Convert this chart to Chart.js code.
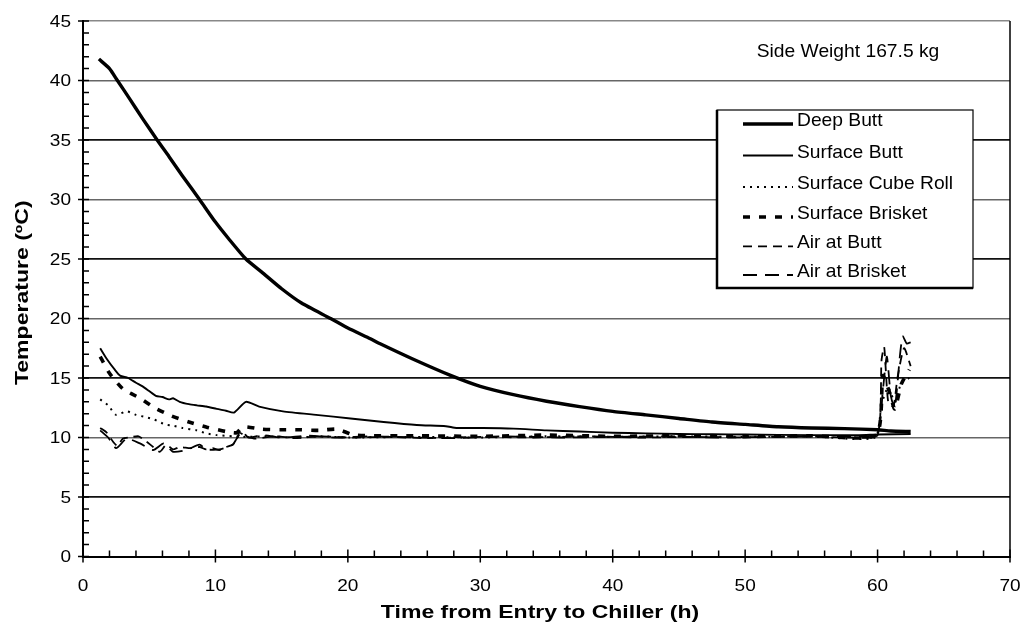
<!DOCTYPE html>
<html>
<head>
<meta charset="utf-8">
<script src="https://cdn.jsdelivr.net/npm/chart.js@4.4.1/dist/chart.umd.min.js"></script>
<style>
  html, body { margin: 0; padding: 0; background: #fff; }
  #wrap { width: 1027px; height: 639px; }
</style>
</head>
<body>
<div id="wrap"><canvas id="chiller-chart" width="1027" height="639"></canvas></div>
<script>
// Hours after entry and measured temperatures (degC) for each probe
const deepButtHours = [1.2, 2.0, 2.6, 3.5, 4.5, 5.6, 6.5, 7.5, 8.8, 10.0, 11.0, 12.3, 13.5, 15.0, 16.5, 18.7, 20.0, 21.7, 22.4, 24.9, 27.8, 30.0, 32.5, 35.0, 37.5, 40.0, 42.5, 45.0, 47.5, 50.0, 52.5, 55.0, 57.5, 60.0, 61.0, 62.5];
const deepButtTemps = [41.8, 41.0, 40.0, 38.5, 36.8, 35.0, 33.6, 32.0, 30.0, 28.1, 26.7, 25.0, 23.9, 22.5, 21.3, 20.0, 19.2, 18.3, 17.9, 16.6, 15.2, 14.3, 13.6, 13.05, 12.6, 12.2, 11.9, 11.6, 11.3, 11.1, 10.9, 10.8, 10.75, 10.65, 10.55, 10.5];

const surfButtHours = [1.3, 1.8, 2.4, 2.8, 3.4, 4.0, 4.5, 5.0, 5.5, 6.0, 6.5, 6.8, 7.3, 8.0, 8.6, 9.3, 10.1, 10.8, 11.4, 12.3, 13.3, 15.1, 17.6, 20.2, 22.7, 25.2, 27.4, 28.2, 30.2, 32.5, 35.0, 37.5, 40.0, 42.5, 45.0, 47.5, 50.0, 55.0, 58.6, 60.0, 62.5];
const surfButtTemps = [17.5, 16.6, 15.7, 15.2, 15.0, 14.6, 14.3, 13.9, 13.5, 13.4, 13.2, 13.3, 13.0, 12.8, 12.7, 12.6, 12.4, 12.25, 12.1, 13.0, 12.6, 12.2, 11.9, 11.6, 11.3, 11.05, 10.95, 10.8, 10.8, 10.75, 10.6, 10.5, 10.4, 10.35, 10.3, 10.27, 10.25, 10.2, 10.2, 10.25, 10.3];

const cubeRollHours = [1.3, 1.9, 2.5, 3.3, 4.0, 4.8, 5.4, 6.2, 6.8, 7.5, 8.6, 9.3, 10.1, 11.3, 12.0, 14.0, 16.0, 18.0, 20.0, 25.0, 30.0, 35.0, 40.0, 45.0, 50.0, 55.0, 59.8, 60.3, 60.8, 61.3, 61.8, 62.4];
const cubeRollTemps = [13.2, 12.7, 11.9, 12.2, 11.9, 11.7, 11.5, 11.1, 11.0, 10.8, 10.6, 10.35, 10.2, 10.1, 10.05, 10.1, 10.0, 10.1, 10.0, 10.05, 10.0, 10.1, 10.05, 10.1, 10.05, 10.1, 10.0, 12.8, 14.2, 13.0, 14.6, 15.0];

const surfBrisketHours = [1.3, 2.0, 3.0, 4.3, 5.4, 6.7, 8.0, 9.4, 10.8, 11.6, 12.1, 13.5, 15.0, 16.4, 17.8, 19.2, 20.5, 25.0, 30.0, 35.0, 40.0, 45.0, 50.0, 55.0, 59.9, 60.4, 60.9, 61.3, 61.8, 62.4];
const surfBrisketTemps = [16.8, 15.4, 14.1, 13.3, 12.5, 11.8, 11.3, 10.85, 10.5, 10.4, 10.9, 10.7, 10.65, 10.65, 10.6, 10.7, 10.2, 10.15, 10.1, 10.2, 10.1, 10.15, 10.1, 10.15, 10.2, 15.2, 13.8, 12.4, 14.5, 15.7];

const airButtHours = [1.3, 1.8, 2.3, 2.6, 3.0, 3.5, 4.2, 4.8, 5.3, 5.8, 6.3, 6.8, 7.3, 8.1, 8.8, 9.3, 9.8, 10.3, 10.8, 11.3, 11.6, 11.8, 12.3, 13.0, 14.5, 16.0, 18.0, 20.0, 23.0, 26.0, 30.0, 34.0, 38.0, 42.0, 46.0, 50.0, 54.0, 58.0, 60.0, 60.3, 60.5, 60.8, 61.2, 61.5, 62.0, 62.5];
const airButtTemps = [10.8, 10.4, 9.6, 9.3, 9.9, 10.0, 10.1, 9.65, 9.2, 8.8, 9.4, 9.0, 9.2, 9.1, 9.2, 9.0, 9.1, 8.95, 9.2, 9.4, 9.8, 10.4, 10.1, 9.9, 10.1, 9.95, 10.1, 10.0, 10.05, 9.95, 10.05, 10.0, 10.1, 10.0, 10.05, 10.0, 10.1, 10.0, 10.2, 16.5, 17.6, 13.0, 12.6, 15.0, 17.5, 16.0];

const airBrisketHours = [1.3, 1.9, 2.5, 3.3, 4.3, 5.3, 6.1, 6.8, 7.8, 8.8, 9.3, 10.3, 11.3, 11.6, 12.0, 12.5, 13.5, 15.0, 17.0, 19.0, 22.0, 25.0, 28.0, 32.0, 36.0, 40.0, 44.0, 48.0, 52.0, 56.0, 59.9, 60.4, 60.7, 61.0, 61.3, 61.7, 61.9, 62.2, 62.5];
const airBrisketTemps = [10.6, 10.0, 9.1, 9.9, 9.5, 8.95, 9.5, 8.8, 8.95, 9.4, 9.0, 9.0, 9.4, 9.9, 10.5, 10.0, 10.2, 10.0, 10.15, 10.0, 10.1, 10.0, 9.95, 10.1, 10.0, 10.05, 10.1, 10.0, 10.05, 10.1, 10.3, 14.0, 16.8, 13.5, 12.5, 17.0, 18.5, 17.9, 18.0];

const yTicks = [0, 5, 10, 15, 20, 25, 30, 35, 40, 45];
const xTicks = [0, 10, 20, 30, 40, 50, 60, 70];

const FONT = '"Liberation Sans", Arial, sans-serif';

function toPoints(hours, temps) {
    return hours.map((h, i) => ({ x: h, y: temps[i] }));
}

// Draw a line of text, optionally widened along its own direction
function stretchText(ctx, text, x, y, font, align, sx, angle) {
    ctx.save();
    ctx.translate(x, y);
    if (angle) ctx.rotate(angle);
    ctx.scale(sx || 1, 1);
    ctx.font = font;
    ctx.textAlign = align || 'center';
    ctx.textBaseline = 'middle';
    ctx.fillStyle = '#000';
    ctx.fillText(text, 0, 0);
    ctx.restore();
}

const datasets = [
    { label: 'Deep Butt', data: toPoints(deepButtHours, deepButtTemps), borderWidth: 3.4, borderDash: [] },
    { label: 'Surface Butt', data: toPoints(surfButtHours, surfButtTemps), borderWidth: 1.9, borderDash: [] },
    { label: 'Surface Cube Roll', data: toPoints(cubeRollHours, cubeRollTemps), borderWidth: 2, borderDash: [2, 5] },
    { label: 'Surface Brisket', data: toPoints(surfBrisketHours, surfBrisketTemps), borderWidth: 3.6, borderDash: [7, 9] },
    { label: 'Air at Butt', data: toPoints(airButtHours, airButtTemps), borderWidth: 1.8, borderDash: [9, 6] },
    { label: 'Air at Brisket', data: toPoints(airBrisketHours, airBrisketTemps), borderWidth: 1.8, borderDash: [14, 8] }
].map(ds => Object.assign(ds, {
    borderColor: '#000',
    backgroundColor: '#000',
    pointRadius: 0,
    tension: 0.2,
    fill: false
}));

// Tick marks, labels, titles, legend box and the weight note
const decorations = {
    id: 'decorations',
    beforeDatasetsDraw(chart) {
        const { ctx, chartArea: a } = chart;
        ctx.save();
        ctx.strokeStyle = '#000';
        ctx.lineWidth = 1.5;
        ctx.beginPath();
        ctx.moveTo(a.right, a.top);
        ctx.lineTo(a.right, a.bottom);
        ctx.stroke();
        ctx.restore();
    },
    afterDraw(chart) {
        const { ctx, chartArea: a, scales: { x, y } } = chart;
        ctx.save();
        ctx.strokeStyle = '#000';
        ctx.lineWidth = 1.5;
        ctx.beginPath();
        // y minor ticks every 1 degC, inside
        for (let v = 0; v <= 45; v++) {
            const py = y.getPixelForValue(v);
            ctx.moveTo(a.left, py);
            ctx.lineTo(a.left + 6, py);
        }
        // y major ticks outside
        yTicks.forEach(v => {
            const py = y.getPixelForValue(v);
            ctx.moveTo(a.left - 5, py);
            ctx.lineTo(a.left, py);
        });
        // x minor ticks every 2 h, inside
        for (let v = 0; v <= 70; v += 2) {
            const px = x.getPixelForValue(v);
            ctx.moveTo(px, a.bottom);
            ctx.lineTo(px, a.bottom - 6);
        }
        // x major ticks cross the axis
        xTicks.forEach(v => {
            const px = x.getPixelForValue(v);
            ctx.moveTo(px, a.bottom - 7);
            ctx.lineTo(px, a.bottom + 6);
        });
        ctx.stroke();
        ctx.restore();

        const tickFont = '17px ' + FONT;
        yTicks.forEach(v => stretchText(ctx, String(v), 71, y.getPixelForValue(v) + 1, tickFont, 'right', 1.12));
        xTicks.forEach(v => stretchText(ctx, String(v), x.getPixelForValue(v), 586, tickFont, 'center', 1.12));

        const titleFont = 'bold 18px ' + FONT;
        stretchText(ctx, 'Time from Entry to Chiller (h)', 540, 613, titleFont, 'center', 1.28);
        stretchText(ctx, 'Temperature (\u00baC)', 23, (a.top + a.bottom) / 2 + 4, titleFont, 'center', 1.28, -Math.PI / 2);

        stretchText(ctx, 'Side Weight 167.5 kg', 848, 52, '18.5px ' + FONT, 'center', 1.04);

        // legend box
        const box = { left: 717, top: 110, right: 973, bottom: 288 };
        ctx.save();
        ctx.fillStyle = '#fff';
        ctx.fillRect(box.left, box.top, box.right - box.left, box.bottom - box.top);
        ctx.strokeStyle = '#000';
        ctx.lineWidth = 1.2;
        ctx.strokeRect(box.left, box.top, box.right - box.left, box.bottom - box.top);
        ctx.lineWidth = 2.5;
        ctx.beginPath();
        ctx.moveTo(box.left, box.top);
        ctx.lineTo(box.left, box.bottom);
        ctx.lineTo(box.right, box.bottom);
        ctx.stroke();
        ctx.restore();

        const rows = [121, 152.5, 184, 214, 243.3, 272];
        chart.data.datasets.forEach((ds, i) => {
            const ry = rows[i];
            ctx.save();
            ctx.strokeStyle = ds.borderColor;
            ctx.lineWidth = ds.borderWidth;
            ctx.setLineDash(ds.borderDash);
            ctx.beginPath();
            ctx.moveTo(743, ry + 3);
            ctx.lineTo(793, ry + 3);
            ctx.stroke();
            ctx.restore();
            stretchText(ctx, ds.label, 797, ry, '18.5px ' + FONT, 'left', 1.04);
        });
    }
};

new Chart(document.getElementById('chiller-chart'), {
    type: 'line',
    data: { datasets },
    options: {
        responsive: false,
        animation: false,
        events: [],
        layout: { padding: { left: 0, top: 21, right: 17, bottom: 0 } },
        plugins: {
            legend: { display: false },
            tooltip: { enabled: false }
        },
        scales: {
            x: {
                type: 'linear',
                min: 0,
                max: 70,
                ticks: { display: false, stepSize: 10 },
                grid: { display: false, drawTicks: false },
                border: { display: true, color: '#000', width: 2 },
                afterFit(scale) { scale.height = 82.5; }
            },
            y: {
                min: 0,
                max: 45,
                ticks: { display: false, stepSize: 5 },
                grid: {
                    drawTicks: false,
                    color: c => {
                        const v = c.tick.value;
                        if (v === 45) return '#888';
                        return v % 10 === 5 ? '#111' : '#666';
                    },
                    lineWidth: c => (c.tick.value % 10 === 5 && c.tick.value !== 45 ? 1.8 : 1.4)
                },
                border: { display: true, color: '#000', width: 2 },
                afterFit(scale) { scale.width = 83; }
            }
        }
    },
    plugins: [decorations]
});
</script>
</body>
</html>
